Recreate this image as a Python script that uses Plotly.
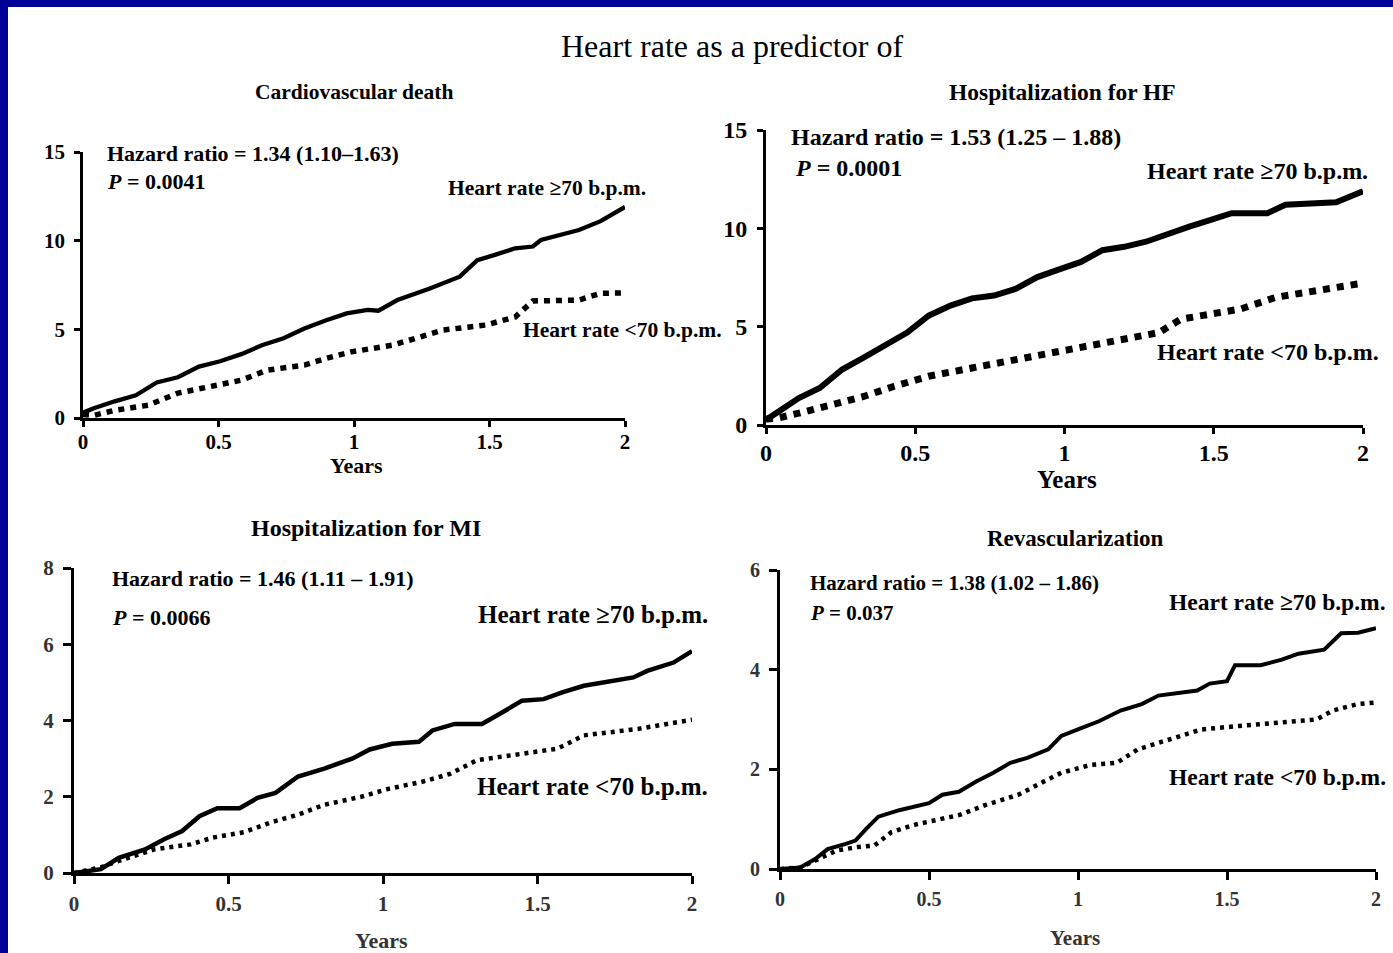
import plotly.graph_objects as go

W, H = 1393, 953

# ---------------- data (cumulative event rate %, years) ----------------
cv_hi_x = [0, 0.04, 0.117, 0.195, 0.272, 0.35, 0.428, 0.506, 0.584, 0.66, 0.74, 0.817, 0.895, 0.973, 1.05, 1.09, 1.16, 1.28, 1.39, 1.455, 1.52, 1.595, 1.66, 1.69, 1.83, 1.91, 2.0]
cv_hi_y = [0.3, 0.55, 0.94, 1.28, 2.0, 2.3, 2.9, 3.2, 3.6, 4.1, 4.5, 5.05, 5.5, 5.9, 6.1, 6.05, 6.65, 7.3, 7.97, 8.9, 9.2, 9.57, 9.67, 10.04, 10.6, 11.1, 11.9]
cv_lo_x = [0, 0.04, 0.117, 0.24, 0.35, 0.46, 0.584, 0.68, 0.817, 0.895, 0.99, 1.14, 1.24, 1.33, 1.486, 1.595, 1.66, 1.83, 1.91, 2.0]
cv_lo_y = [0.2, 0.15, 0.43, 0.72, 1.4, 1.75, 2.13, 2.7, 2.98, 3.35, 3.73, 4.1, 4.58, 4.96, 5.24, 5.7, 6.6, 6.65, 7.03, 7.05]

hf_hi_x = [0, 0.036, 0.11, 0.18, 0.255, 0.327, 0.4, 0.473, 0.545, 0.618, 0.69, 0.764, 0.836, 0.909, 0.98, 1.055, 1.127, 1.2, 1.273, 1.345, 1.418, 1.49, 1.56, 1.68, 1.74, 1.91, 2.0]
hf_hi_y = [0.26, 0.6, 1.37, 1.88, 2.82, 3.42, 4.1, 4.7, 5.56, 6.07, 6.44, 6.58, 6.92, 7.52, 7.9, 8.29, 8.89, 9.06, 9.32, 9.74, 10.09, 10.43, 10.77, 10.77, 11.2, 11.32, 11.88]
hf_lo_x = [0, 0.036, 0.11, 0.225, 0.327, 0.43, 0.545, 0.69, 0.836, 0.98, 1.127, 1.24, 1.316, 1.39, 1.505, 1.59, 1.71, 1.825, 1.985]
hf_lo_y = [0.3, 0.34, 0.6, 1.03, 1.45, 1.97, 2.48, 2.9, 3.33, 3.76, 4.19, 4.53, 4.7, 5.38, 5.64, 5.9, 6.5, 6.75, 7.18]

mi_hi_x = [0, 0.087, 0.145, 0.23, 0.29, 0.35, 0.406, 0.464, 0.536, 0.594, 0.652, 0.725, 0.81, 0.9, 0.957, 1.03, 1.116, 1.16, 1.232, 1.32, 1.377, 1.45, 1.52, 1.58, 1.65, 1.725, 1.81, 1.855, 1.94, 2.0]
mi_hi_y = [0, 0.1, 0.4, 0.62, 0.88, 1.1, 1.49, 1.7, 1.7, 1.97, 2.1, 2.53, 2.74, 3.0, 3.24, 3.39, 3.44, 3.74, 3.91, 3.91, 4.17, 4.52, 4.56, 4.74, 4.91, 5.0, 5.13, 5.3, 5.52, 5.82]
mi_lo_x = [0, 0.087, 0.16, 0.26, 0.377, 0.45, 0.55, 0.638, 0.725, 0.81, 0.93, 1.014, 1.13, 1.217, 1.304, 1.42, 1.565, 1.65, 1.826, 2.0]
mi_lo_y = [0, 0.15, 0.36, 0.62, 0.75, 0.93, 1.07, 1.33, 1.53, 1.79, 2.0, 2.2, 2.4, 2.6, 2.96, 3.09, 3.26, 3.61, 3.78, 4.02]

rv_hi_x = [0, 0.068, 0.118, 0.16, 0.218, 0.253, 0.29, 0.33, 0.4, 0.446, 0.5, 0.545, 0.6, 0.66, 0.716, 0.773, 0.83, 0.9, 0.944, 1.0, 1.072, 1.143, 1.214, 1.27, 1.342, 1.4, 1.442, 1.5, 1.527, 1.613, 1.684, 1.74, 1.826, 1.883, 1.94, 2.0]
rv_hi_y = [0, 0.03, 0.2, 0.4, 0.5, 0.57, 0.81, 1.05, 1.18, 1.25, 1.32, 1.49, 1.55, 1.76, 1.93, 2.13, 2.23, 2.4, 2.67, 2.8, 2.97, 3.18, 3.31, 3.48, 3.53, 3.58, 3.72, 3.77, 4.09, 4.09, 4.2, 4.32, 4.4, 4.73, 4.74, 4.83]
rv_lo_x = [0, 0.068, 0.118, 0.19, 0.26, 0.317, 0.374, 0.446, 0.545, 0.6, 0.688, 0.8, 0.887, 0.944, 1.043, 1.13, 1.2, 1.328, 1.414, 1.54, 1.684, 1.8, 1.855, 1.94, 2.0]
rv_lo_y = [0, 0.03, 0.17, 0.37, 0.44, 0.47, 0.74, 0.88, 1.01, 1.08, 1.28, 1.49, 1.76, 1.93, 2.09, 2.13, 2.4, 2.64, 2.8, 2.87, 2.94, 3.0, 3.18, 3.31, 3.34]

x_ticks = [0, 0.5, 1, 1.5, 2]
x_tick_text = ["0", "0.5", "1", "1.5", "2"]

panel_titles = ["Cardiovascular death", "Hospitalization for HF", "Hospitalization for MI", "Revascularization"]
hazard_texts = ["Hazard ratio = 1.34 (1.10\u20131.63)", "Hazard ratio = 1.53 (1.25 \u2013 1.88)",
                "Hazard ratio = 1.46 (1.11 \u2013 1.91)", "Hazard ratio = 1.38 (1.02 \u2013 1.86)"]
p_texts = ["0.0041", "0.0001", "0.0066", "0.037"]
y_ranges = [15, 15, 8, 6]
y_dticks = [5, 5, 2, 2]
hi_label = "Heart rate \u226570 b.p.m."
lo_label = "Heart rate <70 b.p.m."
main_title = "Heart rate as a predictor of"
x_label = "Years"

# ---------------- layout geometry (pixels) ----------------
# (x0px, x2px, y0px, ytop_px)
geom = [(83, 625, 418, 152), (766, 1363, 425, 130), (74, 692, 873, 568), (780, 1376, 869, 570)]
style = [
    dict(lw=4.3, dw=5.5, dash="6px,6px", axw=2.5, tick=21, bold=True, ann=22, lab=21.5, title=21.5,
         years=22, tlen=6, xstand=-3),
    dict(lw=6, dw=7, dash="7px,7px", axw=3, tick=24, bold=True, ann=24, lab=24, title=23.5,
         years=25, tlen=6, xstand=-2),
    dict(lw=4.5, dw=4.5, dash="4px,5px", axw=3, tick=21, bold=False, ann=22, lab=25, title=24,
         years=22, tlen=8, xstand=2),
    dict(lw=4, dw=4.5, dash="4px,5px", axw=3, tick=20, bold=False, ann=21, lab=23.5, title=23,
         years=21, tlen=8, xstand=2),
]
# text positions: title center, hazard left/y, P left/y, hi left/y, lo left/y, years center
text_pos = [
    dict(title=(354, 92), hz=(105, 153), p=(105, 181), hi=(446, 188), lo=(521, 330), yrs=(356, 466)),
    dict(title=(1062, 92), hz=(789, 137), p=(793, 168), hi=(1145, 171), lo=(1155, 352), yrs=(1067, 479)),
    dict(title=(366, 528), hz=(110, 578), p=(110, 617), hi=(476, 614), lo=(475, 786), yrs=(381, 940)),
    dict(title=(1075, 538), hz=(808, 583), p=(808, 613), hi=(1167, 602), lo=(1167, 777), yrs=(1075, 938)),
]

def fx(px):
    return px / W

def fy(py):
    return 1 - py / H

FONT = "Liberation Serif, Times New Roman, serif"
series = [(cv_hi_x, cv_hi_y, cv_lo_x, cv_lo_y), (hf_hi_x, hf_hi_y, hf_lo_x, hf_lo_y),
          (mi_hi_x, mi_hi_y, mi_lo_x, mi_lo_y), (rv_hi_x, rv_hi_y, rv_lo_x, rv_lo_y)]

fig = go.Figure()
layout = dict(template="none", width=W, height=H,
              margin=dict(l=0, r=0, t=0, b=0, pad=0, autoexpand=False),
              paper_bgcolor="white", plot_bgcolor="rgba(0,0,0,0)", showlegend=False)
annotations = []
for i in range(4):
    n = "" if i == 0 else str(i + 1)
    x0, x2, y0, yt = geom[i]
    st = style[i]
    hx, hy, lx, ly = series[i]
    fig.add_trace(go.Scatter(x=lx, y=ly, mode="lines", xaxis="x" + n, yaxis="y" + n,
                             line=dict(color="black", width=st["dw"], dash=st["dash"]), hoverinfo="skip"))
    fig.add_trace(go.Scatter(x=hx, y=hy, mode="lines", xaxis="x" + n, yaxis="y" + n,
                             line=dict(color="black", width=st["lw"]), hoverinfo="skip"))
    tf = dict(family=FONT, size=st["tick"], color="black" if st["bold"] else "#333333",
              weight="bold")
    common = dict(ticks="outside", ticklen=st["tlen"], tickwidth=st["axw"], tickcolor="black",
                  showline=True, linecolor="black", linewidth=st["axw"], showgrid=False,
                  zeroline=False, tickfont=tf, automargin=False, fixedrange=True)
    layout["xaxis" + n] = dict(domain=[fx(x0), fx(x2)], range=[0, 2], anchor="y" + n,
                               tickvals=x_ticks, ticktext=x_tick_text,
                               ticklabelstandoff=st["xstand"], **common)
    layout["yaxis" + n] = dict(domain=[fy(y0), fy(yt)], range=[0, y_ranges[i]], anchor="x" + n,
                               dtick=y_dticks[i], tick0=0, ticklabelstandoff=5, **common)
    tp = text_pos[i]
    def ann(text, pos, size, xanchor="left", weight="bold", color="black"):
        annotations.append(dict(text=text, x=fx(pos[0]), y=fy(pos[1]), xref="paper", yref="paper",
                                xanchor=xanchor, yanchor="middle", showarrow=False,
                                font=dict(family=FONT, size=size, color=color, weight=weight)))
    ann(panel_titles[i], tp["title"], st["title"], "center")
    ann(hazard_texts[i], tp["hz"], st["ann"])
    ann("<i>P</i> = " + p_texts[i], tp["p"], st["ann"])
    ann(hi_label, tp["hi"], st["lab"])
    ann(lo_label, tp["lo"], st["lab"])
    ann(x_label, tp["yrs"], st["years"], "center", "bold", "black" if st["bold"] else "#333333")

annotations.append(dict(text=main_title, x=fx(732), y=fy(46), xref="paper", yref="paper",
                        xanchor="center", yanchor="middle", showarrow=False,
                        font=dict(family=FONT, size=32, color="black")))
layout["annotations"] = annotations
layout["shapes"] = [
    dict(type="rect", xref="paper", yref="paper", x0=0, x1=fx(8), y0=0, y1=1,
         fillcolor="#000099", line=dict(width=0), layer="above"),
    dict(type="rect", xref="paper", yref="paper", x0=0, x1=1, y0=fy(7), y1=1,
         fillcolor="#000099", line=dict(width=0), layer="above"),
]
fig.update_layout(**layout)
fig.write_html("out.html",
               post_script="document.body.style.margin='0';document.body.style.overflow='hidden';")
